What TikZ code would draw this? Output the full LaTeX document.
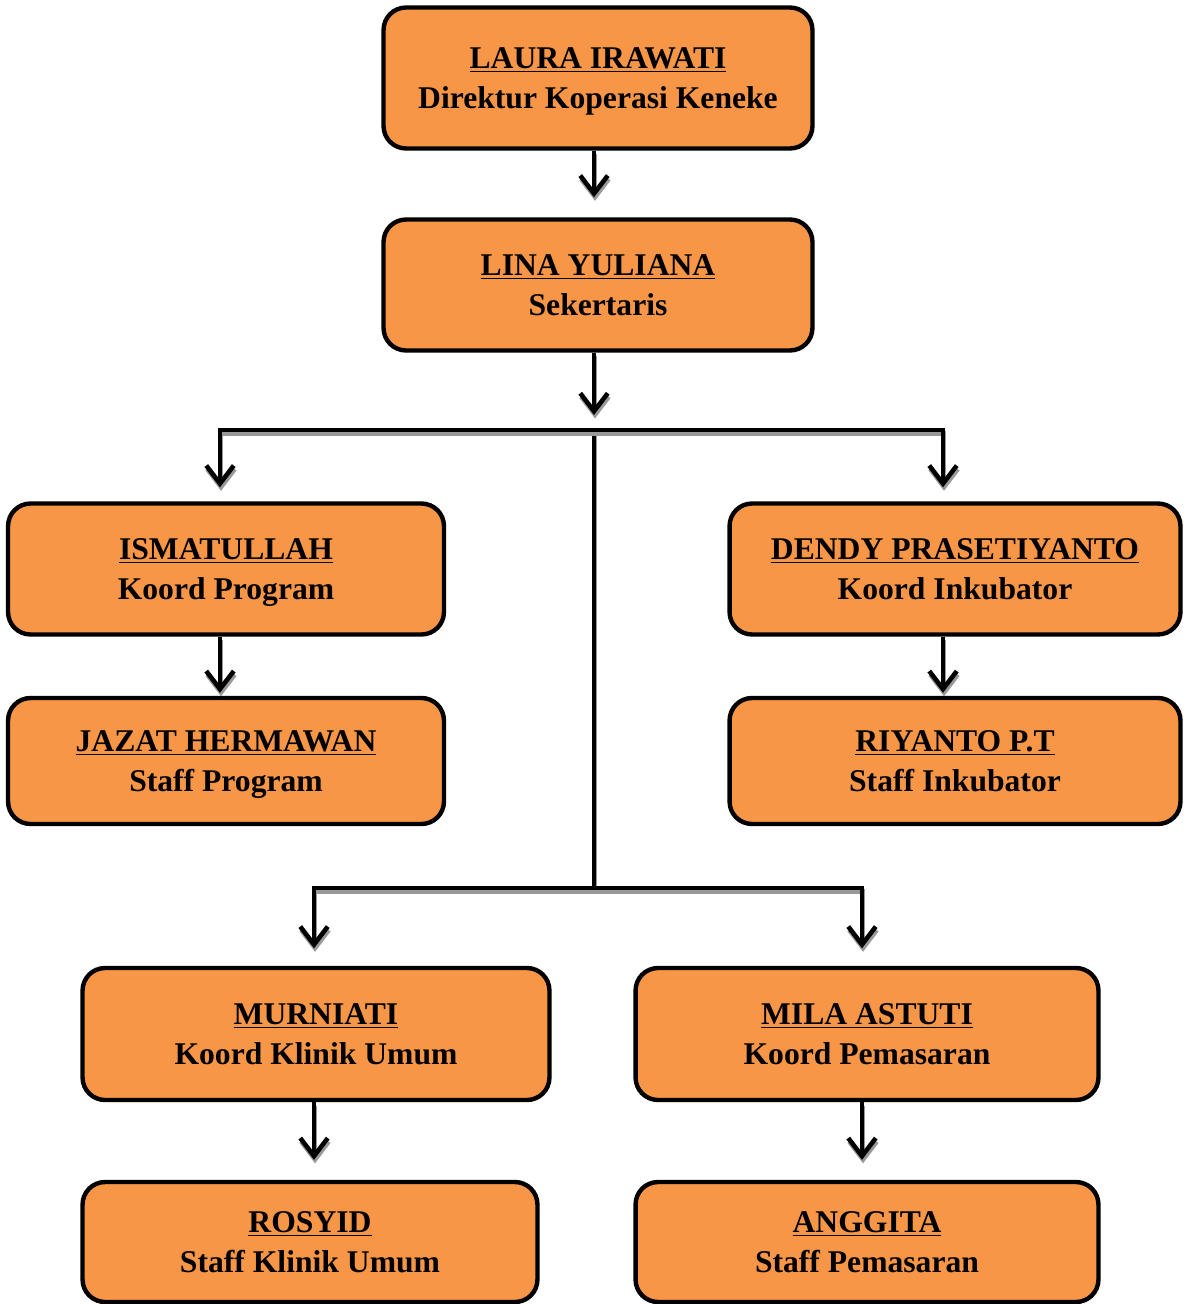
\documentclass[tikz,border=0pt]{standalone}
\usepackage{fontspec}
\setmainfont{Liberation Serif}
\usetikzlibrary{arrows.meta}
\definecolor{oranye}{HTML}{F79646}
\tikzset{
  kotak/.style={draw, line width=2.5pt, fill=oranye, rounded corners=0.45cm,
    align=center, inner sep=0pt, text depth=0pt,
    font=\bfseries\fontsize{18}{22.5}\selectfont},
  garis/.style={line width=2.6pt,
    preaction={draw=black!40, line width=2.6pt,
      transform canvas={shift={(0.02cm,-0.07cm)}}}},
  panah/.style={garis, -{Straight Barb[length=0.36cm,width=0.55cm]}}
}
\begin{document}
\begin{tikzpicture}[x=0.02cm, y=-0.02cm]
  \useasboundingbox (0,0) rectangle (1186,1304);

  % Direktur dan sekretaris
  \node[kotak, minimum width=8.58cm, minimum height=2.82cm] (laura) at (598,78)
    {\underline{LAURA IRAWATI}\\Direktur Koperasi Keneke};
  \node[kotak, minimum width=8.58cm, minimum height=2.62cm] (lina) at (598,285)
    {\underline{LINA YULIANA}\\Sekertaris};

  % Program dan inkubator
  \node[kotak, minimum width=8.72cm, minimum height=2.62cm] (isma) at (226,569)
    {\underline{ISMATULLAH}\\Koord Program};
  \node[kotak, minimum width=8.72cm, minimum height=2.52cm] (jazat) at (226,761)
    {\underline{JAZAT HERMAWAN}\\Staff Program};
  \node[kotak, minimum width=9.02cm, minimum height=2.62cm] (dendy) at (955,569)
    {\underline{DENDY PRASETIYANTO}\\Koord Inkubator};
  \node[kotak, minimum width=9.02cm, minimum height=2.52cm] (riyanto) at (955,761)
    {\underline{RIYANTO P.T}\\Staff Inkubator};

  % Klinik umum dan pemasaran
  \node[kotak, minimum width=9.34cm, minimum height=2.64cm] (murni) at (316,1034)
    {\underline{MURNIATI}\\Koord Klinik Umum};
  \node[kotak, minimum width=9.26cm, minimum height=2.64cm] (mila) at (867,1034)
    {\underline{MILA ASTUTI}\\Koord Pemasaran};
  \node[kotak, minimum width=9.1cm, minimum height=2.4cm] (rosyid) at (310,1242)
    {\underline{ROSYID}\\Staff Klinik Umum};
  \node[kotak, minimum width=9.26cm, minimum height=2.4cm] (anggita) at (867,1242)
    {\underline{ANGGITA}\\Staff Pemasaran};

  % Titik cabang
  \coordinate (cab1) at (594,430);
  \coordinate (cabL) at (220,430);
  \coordinate (cabR) at (943,430);
  \coordinate (cab2) at (594,888);
  \coordinate (cabL2) at (314,888);
  \coordinate (cabR2) at (862,888);

  % Garis dan panah
  \draw[panah, shorten >=0.4cm] (laura.south -| cab1) -- (lina.north -| cab1);
  \draw[panah, shorten >=0.3cm] (lina.south -| cab1) -- (cab1);
  \draw[garis] (cab1) -- (cab2);
  \draw[panah, shorten >=0.28cm] (cab1) -- (cabL) -- (cabL |- isma.north);
  \draw[panah, shorten >=0.28cm] (cab1) -- (cabR) -- (cabR |- dendy.north);
  \draw[panah, shorten >=0.35cm] (cab2) -- (cabL2) -- (cabL2 |- murni.north);
  \draw[panah, shorten >=0.35cm] (cab2) -- (cabR2) -- (cabR2 |- mila.north);

  \draw[panah, shorten >=0.06cm] (isma.south -| cabL) -- (jazat.north -| cabL);
  \draw[panah, shorten >=0.06cm] (dendy.south -| cabR) -- (riyanto.north -| cabR);
  \draw[panah, shorten >=0.4cm] (murni.south -| cabL2) -- (rosyid.north -| cabL2);
  \draw[panah, shorten >=0.4cm] (mila.south -| cabR2) -- (anggita.north -| cabR2);
\end{tikzpicture}
\end{document}
